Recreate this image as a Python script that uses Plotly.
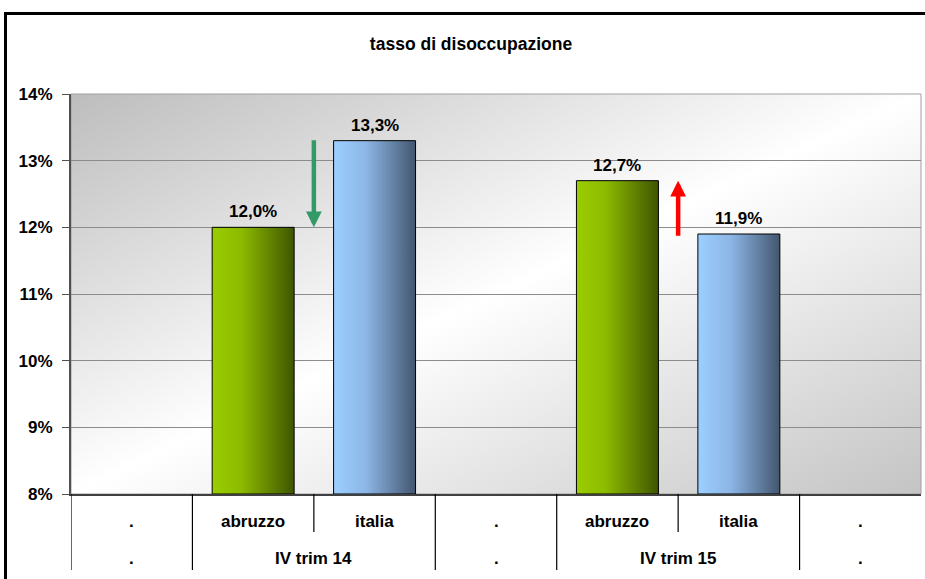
import base64
import plotly.graph_objects as go

# ---- data ----
categories = [".", "abruzzo", "italia", ".", "abruzzo", "italia", "."]
groups = [".", "IV trim 14", ".", "IV trim 15", "."]
group_spans = [(0, 0), (1, 2), (3, 3), (4, 5), (6, 6)]
abruzzo_values = [12.0, 12.7]
italia_values = [13.3, 11.9]
abruzzo_idx = [1, 4]
italia_idx = [2, 5]
y_ticks = [8, 9, 10, 11, 12, 13, 14]
y_ticklabels = ["8%", "9%", "10%", "11%", "12%", "13%", "14%"]
title_text = "tasso di disoccupazione"

FONT = "Liberation Sans, Arial, sans-serif"
BAR_W = 0.675
YMIN, YMAX = 8, 14

green_scale = [[0, "#9acd00"], [0.35, "#8dbb00"], [1, "#3f5500"]]
blue_scale = [[0, "#9ccfff"], [0.4, "#8cb6e6"], [1, "#43566f"]]

fig = go.Figure()


def add_bar(i, v, scale):
    xs = [i - BAR_W / 2, i - BAR_W / 2, i + BAR_W / 2, i + BAR_W / 2, i - BAR_W / 2]
    ys = [YMIN, v, v, YMIN, YMIN]
    fig.add_trace(go.Scatter(
        x=xs, y=ys, mode="lines", fill="toself",
        fillgradient=dict(type="horizontal", colorscale=scale),
        line=dict(color="#000000", width=1),
        hoverinfo="skip", showlegend=False,
    ))


for i, v in zip(abruzzo_idx, abruzzo_values):
    add_bar(i, v, green_scale)
for i, v in zip(italia_idx, italia_values):
    add_bar(i, v, blue_scale)

annotations = []
# value labels
for i, v in list(zip(abruzzo_idx, abruzzo_values)) + list(zip(italia_idx, italia_values)):
    annotations.append(dict(
        x=i, y=v, xref="x", yref="y", yanchor="bottom", yshift=4,
        text=f"{v:.1f}".replace(".", ",") + "%", showarrow=False,
        font=dict(family=FONT, size=17, color="#000000", weight="bold"),
    ))

# arrows from italia value to abruzzo value, between the two bars
arrow_colors = ["#339966", "#ff0000"]
for k in range(2):
    xm = (abruzzo_idx[k] + italia_idx[k]) / 2
    annotations.append(dict(
        x=xm, y=abruzzo_values[k], ax=xm, ay=italia_values[k] + (0.03 if k == 0 else -0.05),
        xref="x", yref="y", axref="x", ayref="y",
        showarrow=True, arrowhead=2, arrowsize=0.7, arrowwidth=4.5,
        arrowcolor=arrow_colors[k], text="",
    ))

# category labels
ROW1_Y = -(521 - 494) / 400
ROW2_Y = -(558 - 494) / 400
SHORT = -(532 - 494) / 400
LONG = -(570 - 494) / 400
for i, c in enumerate(categories):
    annotations.append(dict(
        x=i, y=ROW1_Y, xref="x", yref="paper", text=c, showarrow=False,
        yanchor="middle", font=dict(family=FONT, size=17, color="#000000", weight="bold"),
    ))
for g, (a, b) in zip(groups, group_spans):
    annotations.append(dict(
        x=(a + b) / 2, y=ROW2_Y, xref="x", yref="paper", text=g, showarrow=False,
        yanchor="middle", font=dict(family=FONT, size=17, color="#000000", weight="bold"),
    ))

shapes = []
# dividers in the category table
group_edges = set()
for a, b in group_spans:
    group_edges.add(a - 0.5)
for i in range(len(categories)):
    xb = i - 0.5
    shapes.append(dict(
        type="line", xref="x", yref="paper", x0=xb, x1=xb, y0=0,
        y1=LONG if xb in group_edges else SHORT,
        line=dict(color="#000000", width=1.2),
    ))
# plot area border
shapes.append(dict(type="rect", xref="paper", yref="paper", x0=0, x1=1, y0=0, y1=1,
                   line=dict(color="#a0a0a0", width=1), layer="below"))
# outer chart frame
shapes.append(dict(type="rect", xref="paper", yref="paper",
                   x0=(5.5 - 71) / 850, x1=1.2, y0=-0.4, y1=(494 - 13.5) / 400,
                   line=dict(color="#000000", width=3)))

# background gradient (diagonal)
svg = ('<svg xmlns="http://www.w3.org/2000/svg" width="850" height="400" preserveAspectRatio="none">'
       '<defs><linearGradient id="g" x1="0" y1="0" x2="1" y2="1">'
       '<stop offset="0" stop-color="#bdbdbd"/><stop offset="0.5" stop-color="#ffffff"/>'
       '<stop offset="1" stop-color="#c4c4c4"/></linearGradient></defs>'
       '<rect width="850" height="400" fill="url(#g)"/></svg>')
src = "data:image/svg+xml;base64," + base64.b64encode(svg.encode()).decode()

fig.update_layout(
    width=925, height=579,
    margin=dict(l=71, r=4, t=94, b=85),
    paper_bgcolor="#ffffff", plot_bgcolor="rgba(0,0,0,0)",
    showlegend=False,
    title=dict(text=title_text, x=471 / 925, xanchor="center", y=1 - 44 / 579, yanchor="middle",
               font=dict(family=FONT, size=17.5, color="#000000", weight="bold")),
    images=[dict(source=src, xref="paper", yref="paper", x=0, y=1, sizex=1, sizey=1,
                 sizing="stretch", xanchor="left", yanchor="top", layer="below")],
    annotations=annotations,
    shapes=shapes,
    xaxis=dict(range=[-0.5, 6.5], showticklabels=False, showgrid=False, zeroline=False,
               showline=True, linecolor="#404040", linewidth=2, ticks="", fixedrange=True),
    yaxis=dict(range=[YMIN, YMAX], tickvals=y_ticks, ticktext=y_ticklabels,
               showgrid=True, gridcolor="#8c8c8c", gridwidth=1, zeroline=False,
               showline=True, linecolor="#505050", linewidth=2,
               ticks="outside", ticklen=7, tickcolor="#505050", ticklabelstandoff=6,
               tickfont=dict(family=FONT, size=17, color="#000000", weight="bold")),
)

fig.write_html(
    "out.html",
    config={"displayModeBar": False},
    post_script="document.body.style.margin='0';document.body.style.overflow='hidden';",
)
